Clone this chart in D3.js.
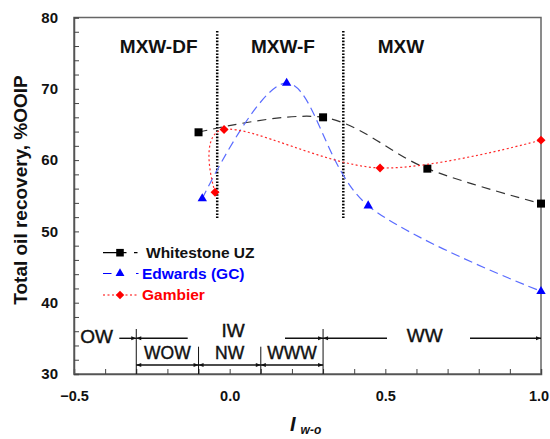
<!DOCTYPE html>
<html>
<head>
<meta charset="utf-8">
<script src="https://cdn.jsdelivr.net/npm/d3@7"></script>
<style>
  html, body { margin: 0; padding: 0; background: #fff; }
  svg { display: block; }
  text { font-family: "Liberation Sans", Arial, sans-serif; }
</style>
</head>
<body>
<svg id="chart" width="550" height="439"></svg>
<script>
// Wettability index vs. total oil recovery for three reservoirs
const seriesNames = ["Whitestone UZ", "Edwards (GC)", "Gambier"];
const whitestoneX = [-0.10, 0.30, 0.635, 1.00];
const whitestoneY = [63.9, 66.0, 58.8, 53.9];
const edwardsX = [-0.088, 0.183, 0.445, 1.00];
const edwardsY = [54.6, 70.8, 53.6, 41.6];
const gambierX = [-0.047, -0.018, 0.483, 1.00];
const gambierY = [55.5, 64.3, 58.9, 62.8];

const xMajorTicks = [-0.5, 0.0, 0.5, 1.0];
const xMinorTicks = [-0.4, -0.3, -0.2, -0.1, 0.1, 0.2, 0.3, 0.4, 0.6, 0.7, 0.8, 0.9];
const yMajorTicks = [30, 40, 50, 60, 70, 80];
const yMinorTicks = [32, 34, 36, 38, 42, 44, 46, 48, 52, 54, 56, 58, 62, 64, 66, 68, 72, 74, 76, 78];

// Flow-regime boundaries (dotted) and their labels
const regimeBounds = [-0.04, 0.365];
const regimeLabels = ["MXW-DF", "MXW-F", "MXW"];
const regimeLabelX = [-0.228, 0.171, 0.55];

// Wettability classes along the index axis
const classBounds = [-0.3, -0.1, 0.1, 0.3];
const upperClasses = ["OW", "IW", "WW"];
const lowerClasses = ["WOW", "NW", "WWW"];

const svg = d3.select("#chart");
const plotL = 74, plotR = 541, plotT = 17.5, plotB = 374;

const x = d3.scaleLinear().domain([-0.5, 1.0]).range([plotL, plotR]);
const y = d3.scaleLinear().domain([30, 80]).range([plotB, plotT]);

// Frame
svg.append("rect")
  .attr("x", plotL).attr("y", plotT)
  .attr("width", plotR - plotL).attr("height", plotB - plotT)
  .attr("fill", "none").attr("stroke", "#666").attr("stroke-width", 1.5);

// Axes with inward ticks
const xAxis = svg.append("g").attr("transform", `translate(0,${plotB})`)
  .call(d3.axisBottom(x).tickValues(xMajorTicks).tickSize(-5).tickPadding(17)
    .tickFormat(d3.format(".1f")));
svg.append("g").attr("transform", `translate(0,${plotB})`)
  .call(d3.axisBottom(x).tickValues(xMinorTicks).tickSize(-5).tickFormat(""))
  .call(g => g.select(".domain").remove());
const yAxis = svg.append("g").attr("transform", `translate(${plotL},0)`)
  .call(d3.axisLeft(y).tickValues(yMajorTicks).tickSize(-5).tickPadding(16)
    .tickFormat(d3.format("d")));
svg.append("g").attr("transform", `translate(${plotL},0)`)
  .call(d3.axisLeft(y).tickValues(yMinorTicks).tickSize(-5).tickFormat(""))
  .call(g => g.select(".domain").remove());

svg.selectAll(".domain").attr("stroke", "#555").attr("stroke-width", 1.5);
svg.selectAll(".tick line").attr("stroke", "#444").attr("stroke-width", 1);
svg.selectAll(".tick text")
  .attr("font-size", 15).attr("font-weight", "bold").attr("fill", "#111")
  .attr("font-family", "'Liberation Sans', Arial, sans-serif");
xAxis.selectAll(".tick text")
  .attr("font-size", 14.5)
  .attr("dx", d => d === 1.0 ? -2.5 : 0)
  .text(d => d3.format(".1f")(d));

// Axis titles
svg.append("text")
  .attr("transform", "translate(27,190) rotate(-90)")
  .attr("text-anchor", "middle")
  .attr("font-size", 19).attr("font-weight", "bold").attr("fill", "#111")
  .text("Total oil recovery, %OOIP");

const xt = svg.append("text")
  .attr("x", 290).attr("y", 431)
  .attr("font-weight", "bold").attr("font-style", "italic").attr("fill", "#111");
xt.append("tspan").attr("font-size", 20).text("I");
xt.append("tspan").attr("font-size", 12).attr("dx", 5).attr("dy", 3).text("w-o");

// Regime boundaries
svg.selectAll(".regime-line").data(regimeBounds).join("line")
  .attr("class", "regime-line")
  .attr("x1", d => x(d)).attr("x2", d => x(d))
  .attr("y1", 31).attr("y2", 218)
  .attr("stroke", "#000").attr("stroke-width", 2.5)
  .attr("stroke-dasharray", "1.6 1.6");

svg.selectAll(".regime-label").data(regimeLabels).join("text")
  .attr("class", "regime-label")
  .attr("x", (d, i) => x(regimeLabelX[i])).attr("y", 53)
  .attr("text-anchor", "middle")
  .attr("font-size", 19).attr("font-weight", "bold").attr("fill", "#111")
  .text(d => d);

// Series markers: square, triangle, diamond (square turned 45 degrees)
const line = d3.line().x(d => x(d[0])).y(d => y(d[1])).curve(d3.curveCardinal.tension(0));
const series = [
  { name: seriesNames[0], xs: whitestoneX, ys: whitestoneY, stroke: "#333", dash: "9 6", fill: "#000", shape: d3.symbolSquare, size: 64, rot: 0, text: "#111", legendDash: "23.5 7.5 3.5" },
  { name: seriesNames[1], xs: edwardsX, ys: edwardsY, stroke: "#5a6cff", dash: "9 5", fill: "#0000ff", shape: d3.symbolTriangle, size: 38, rot: 0, text: "#0000ff", legendDash: "8.5 24.5 3" },
  { name: seriesNames[2], xs: gambierX, ys: gambierY, stroke: "#ff2a2a", dash: "2 2.5", fill: "#ff0000", shape: d3.symbolSquare, size: 40, rot: 45, text: "#ff0000", legendDash: "2 2.5" }
];

series.forEach(s => {
  const pts = s.xs.map((v, i) => [v, s.ys[i]]);
  svg.append("path").datum(pts)
    .attr("d", line).attr("fill", "none")
    .attr("stroke", s.stroke).attr("stroke-width", 1.2)
    .attr("stroke-dasharray", s.dash);
  svg.selectAll(null).data(pts).join("path")
    .attr("transform", d => `translate(${x(d[0])},${y(d[1])}) rotate(${s.rot})`)
    .attr("d", d3.symbol().type(s.shape).size(s.size))
    .attr("fill", s.fill);
});

// Legend
const legendY = [252.7, 273.5, 295];
series.forEach((s, i) => {
  const g = svg.append("g").attr("transform", `translate(0,${legendY[i]})`);
  g.append("line").attr("x1", 103).attr("x2", 138.5).attr("y1", 0).attr("y2", 0)
    .attr("stroke", s.fill).attr("stroke-width", 1.2)
    .attr("stroke-dasharray", s.legendDash);
  g.append("path").attr("transform", `translate(120,0) rotate(${s.rot})`)
    .attr("d", d3.symbol().type(s.shape).size(s.size * 0.9)).attr("fill", s.fill);
  g.append("text").attr("x", i === 0 ? 146 : 142).attr("y", 5.2)
    .attr("font-size", 15.5).attr("font-weight", "bold").attr("fill", s.text)
    .text(s.name);
});

// Wettability class annotations
const ann = svg.append("g");
ann.append("defs").append("marker")
  .attr("id", "arrow").attr("viewBox", "0 0 10 10")
  .attr("refX", 10).attr("refY", 5)
  .attr("markerWidth", 7).attr("markerHeight", 5)
  .attr("markerUnits", "userSpaceOnUse")
  .attr("orient", "auto-start-reverse")
  .append("path").attr("d", "M0,1 L10,5 L0,9 Z").attr("fill", "#111");

const rowUpper = 338.3, rowLower = 365;
// Vertical separators
[[classBounds[0], 329], [classBounds[1], 346.7], [classBounds[2], 346.7], [classBounds[3], 329]]
  .forEach(([v, y1]) => {
    ann.append("line").attr("x1", x(v)).attr("x2", x(v)).attr("y1", y1).attr("y2", plotB)
      .attr("stroke", "#111").attr("stroke-width", 1);
  });

function arrow(x1, x2, yy, start, end) {
  const l = ann.append("line").attr("x1", x1).attr("x2", x2).attr("y1", yy).attr("y2", yy)
    .attr("stroke", "#111").attr("stroke-width", 1.4);
  if (start) l.attr("marker-start", "url(#arrow)");
  if (end) l.attr("marker-end", "url(#arrow)");
}
// Upper row: OW | IW | WW
arrow(119.3, x(classBounds[0]), rowUpper, false, true);
arrow(x(classBounds[0]), 187.7, rowUpper, true, false);
arrow(285, x(classBounds[3]), rowUpper, false, true);
arrow(x(classBounds[3]), 387, rowUpper, true, false);
arrow(470, plotR, rowUpper, false, true);
// Lower row: WOW | NW | WWW
for (let i = 0; i < 3; i++) {
  arrow(x(classBounds[i]), x(classBounds[i + 1]), rowLower, true, true);
}

const upperX = [96.7, 233, 424.7];
const upperY = [342.5, 337.3, 341.7];
ann.selectAll(".upper").data(upperClasses).join("text")
  .attr("x", (d, i) => upperX[i]).attr("y", (d, i) => upperY[i])
  .attr("text-anchor", "middle").attr("font-size", 19).attr("fill", "#111")
  .attr("stroke", "#111").attr("stroke-width", 0.4)
  .text(d => d);
ann.selectAll(".lower").data(lowerClasses).join("text")
  .attr("x", (d, i) => (x(classBounds[i]) + x(classBounds[i + 1])) / 2).attr("y", 358.5)
  .attr("text-anchor", "middle").attr("font-size", 17.5).attr("fill", "#111")
  .attr("stroke", "#111").attr("stroke-width", 0.4)
  .text(d => d);
</script>
</body>
</html>
